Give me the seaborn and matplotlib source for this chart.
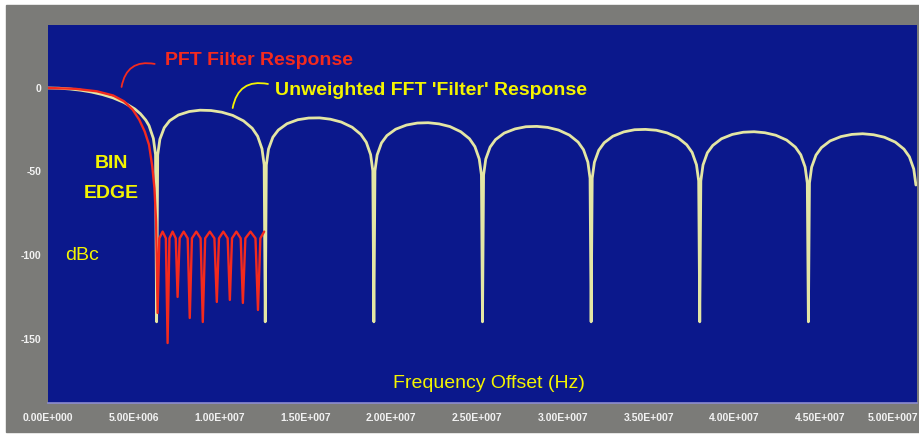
import matplotlib
matplotlib.use("Agg")
import matplotlib.pyplot as plt
import matplotlib.transforms as mtransforms
import numpy as np
import pandas as pd
import seaborn as sns
from matplotlib.patches import Rectangle

# ---- data -------------------------------------------------------------
# frequency of one FFT bin (Hz); curve positions below are given in bins
bin_width_hz = 6.33e6

# unweighted FFT "filter": main lobe, offset from bin centre (bins) -> dBc
mainlobe_offset = [0.0, 0.1, 0.2, 0.3, 0.4, 0.5, 0.6, 0.7, 0.8, 0.85, 0.9,
                   0.93, 0.97, 0.99, 1.0]
mainlobe_db = [0.0, -0.14, -0.58, -1.33, -2.42, -3.92, -5.94, -8.69, -12.62,
               -15.39, -19.23, -22.54, -30.21, -39.9, -140.0]

# sidelobes 1..7, sampled at the same offsets inside each lobe
sidelobe_offset = [0.0, 0.01, 0.03, 0.07, 0.12, 0.2, 0.3, 0.4, 0.5, 0.6, 0.7,
                   0.8, 0.88, 0.93, 0.97, 0.99, 1.0]
sidelobe_db = [
    [-140, -40.1, -30.7, -23.8, -19.6, -16.2, -14.1, -13.3, -13.5, -14.5, -16.4, -19.7, -24.1, -28.9, -36.4, -46.0, -140],
    [-140, -46.1, -36.6, -29.5, -25.2, -21.4, -19.0, -18.0, -17.9, -18.7, -20.4, -23.5, -27.8, -32.5, -39.9, -49.5, -140],
    [-140, -49.6, -40.1, -32.9, -28.5, -24.7, -22.2, -21.0, -20.8, -21.5, -23.1, -26.2, -30.4, -35.1, -42.5, -52.0, -140],
    [-140, -52.1, -42.6, -35.4, -30.9, -27.0, -24.5, -23.2, -23.0, -23.6, -25.2, -28.2, -32.4, -37.0, -44.4, -54.0, -140],
    [-140, -54.0, -44.5, -37.3, -32.8, -28.9, -26.3, -25.0, -24.8, -25.3, -26.9, -29.8, -34.0, -38.6, -46.0, -55.6, -140],
    [-140, -55.6, -46.1, -38.8, -34.4, -30.4, -27.8, -26.5, -26.2, -26.8, -28.3, -31.2, -35.4, -40.0, -47.3, -56.9, -140],
    [-140, -56.9, -47.4, -40.2, -35.7, -31.7, -29.1, -27.8, -27.4, -28.0, -29.5, -32.4, -36.6, -41.2, -48.5, -58.1],
]

# polyphase filter-bank response (bins -> dBc)
pft_bins = [0.0, 0.25, 0.45, 0.6, 0.7, 0.78, 0.84, 0.89, 0.93, 0.96, 0.98, 0.995,
            1.009, 1.025, 1.055, 1.085, 1.101, 1.118, 1.147, 1.176,
            1.193, 1.212, 1.249, 1.286, 1.305, 1.325, 1.365, 1.405,
            1.425, 1.447, 1.49, 1.532, 1.554, 1.574, 1.614, 1.654,
            1.674, 1.694, 1.734, 1.774, 1.794, 1.817, 1.864, 1.91,
            1.933, 1.955, 1.99]
pft_db = [0.0, -0.5, -2.0, -4.5, -8.0, -13.0, -19.0, -26.0, -34.0, -47.0, -60.0, -80.0,
          -134.7, -90, -86, -90, -152.7, -90, -86, -90,
          -125.1, -90, -86, -90, -137.7, -90, -86, -90,
          -140.1, -90, -86, -90, -128.1, -90, -86, -90,
          -126.9, -90, -86, -90, -128.7, -90, -86, -90,
          -132.9, -90, -86]

x_ticks_hz = [0, 5e6, 1e7, 1.5e7, 2e7, 2.5e7, 3e7, 3.5e7, 4e7, 4.5e7, 5e7]
x_tick_labels = ["0.00E+000", "5.00E+006", "1.00E+007", "1.50E+007", "2.00E+007",
                 "2.50E+007", "3.00E+007", "3.50E+007", "4.00E+007", "4.50E+007",
                 "5.00E+007"]
y_ticks_db = [0, -50, -100, -150]
y_tick_labels = ["0", "-50", "-100", "-150"]

# ---- tables -------------------------------------------------------------
u_bins = list(mainlobe_offset)
u_db = list(mainlobe_db)
for k, row in enumerate(sidelobe_db, start=1):
    for off, val in zip(sidelobe_offset, row):
        u_bins.append(k + off)
        u_db.append(val)
ufft = pd.DataFrame({"freq": np.array(u_bins) * bin_width_hz, "level": u_db})
pft = pd.DataFrame({"freq": np.array(pft_bins) * bin_width_hz, "level": pft_db})

# ---- style ----------------------------------------------------------------
sns.set_theme(style="dark")
plt.rcParams["font.family"] = ["Liberation Sans", "DejaVu Sans"]
label_family, big = "Liberation Sans", 14

BLUE = "#0b188c"
GRAY = "#7b7b78"
YELLOW = "#f4f400"
RED = "#f42a1e"
CURVE = "#e4e6a4"

fig = plt.figure(figsize=(9.2, 4.34), dpi=100, facecolor="white")
fig.add_artist(Rectangle((6 / 920, 2 / 434), 914 / 920, 427 / 434,
                         transform=fig.transFigure, color=GRAY, zorder=0))
ax = fig.add_axes([48 / 920, 1 - 403 / 434, 869 / 920, 378 / 434])
ax.set_facecolor(BLUE)

sns.lineplot(data=ufft, x="freq", y="level", estimator=None, sort=False,
             color=CURVE, linewidth=2.0, ax=ax, zorder=3)
sns.lineplot(data=pft, x="freq", y="level", estimator=None, sort=False,
             color=RED, linewidth=1.7, ax=ax, zorder=4)

ax.set_xlim(0, 8.0 * bin_width_hz)
ax.set_ylim(-188.6, 37.7)
ax.set_xlabel("")
ax.set_ylabel("")
ax.grid(False)
ax.set_xticks(x_ticks_hz)
ax.set_xticklabels(x_tick_labels)
ax.set_yticks(y_ticks_db)
ax.set_yticklabels(y_tick_labels)
ax.tick_params(axis="both", direction="out", length=3, width=1,
               color="#c8c8e8", labelcolor="#f2f2f2", labelsize=7.5)
ax.tick_params(axis="x", pad=4)
ax.tick_params(axis="y", pad=2)
for lab in ax.get_xticklabels() + ax.get_yticklabels():
    lab.set_fontweight("bold")
# the last frequency label sits flush with the right edge of the panel
last = ax.get_xticklabels()[-1]
last.set_horizontalalignment("right")
last.set_transform(last.get_transform() +
                   mtransforms.ScaledTranslation(12 / 100, 0, fig.dpi_scale_trans))
for side in ("top", "left", "right"):
    ax.spines[side].set_visible(False)
ax.spines["bottom"].set_color("#8c8cd0")
ax.spines["bottom"].set_linewidth(1.2)

W = bin_width_hz
# labels and pointer arcs
ax.text(1.074 * W, 13.8, "PFT Filter Response", color=RED, fontsize=big,
        fontweight="bold", family=label_family, ha="left", va="baseline", zorder=6)
ax.annotate("", xy=(0.677 * W, 0.6), xytext=(0.982 * W, 14.4),
            arrowprops=dict(arrowstyle="-", color=RED, lw=1.3,
                            connectionstyle="arc3,rad=0.5", shrinkA=0, shrinkB=0),
            zorder=6)
ax.text(2.09 * W, -4.2, "Unweighted FFT 'Filter' Response", color=YELLOW,
        fontsize=big, fontweight="bold", family=label_family, ha="left",
        va="baseline", zorder=6)
ax.annotate("", xy=(1.70 * W, -12.0), xytext=(2.025 * W, 2.4),
            arrowprops=dict(arrowstyle="-", color=YELLOW, lw=1.3,
                            connectionstyle="arc3,rad=0.5", shrinkA=0, shrinkB=0),
            zorder=6)
ax.text(0.585 * W, -47.9, "BIN", color=YELLOW, fontsize=big, fontweight="bold",
        family=label_family, ha="center", va="baseline", zorder=6)
ax.text(0.585 * W, -65.9, "EDGE", color=YELLOW, fontsize=big, fontweight="bold",
        family=label_family, ha="center", va="baseline", zorder=6)
ax.text(0.16 * W, -103.0, "dBc", color=YELLOW, fontsize=big,
        family=label_family, ha="left", va="baseline", zorder=6)
ax.text(3.18 * W, -179.6, "Frequency Offset (Hz)", color=YELLOW, fontsize=big,
        family=label_family, ha="left", va="baseline", zorder=6)

fig.savefig("out.png", dpi=100, facecolor="white")
